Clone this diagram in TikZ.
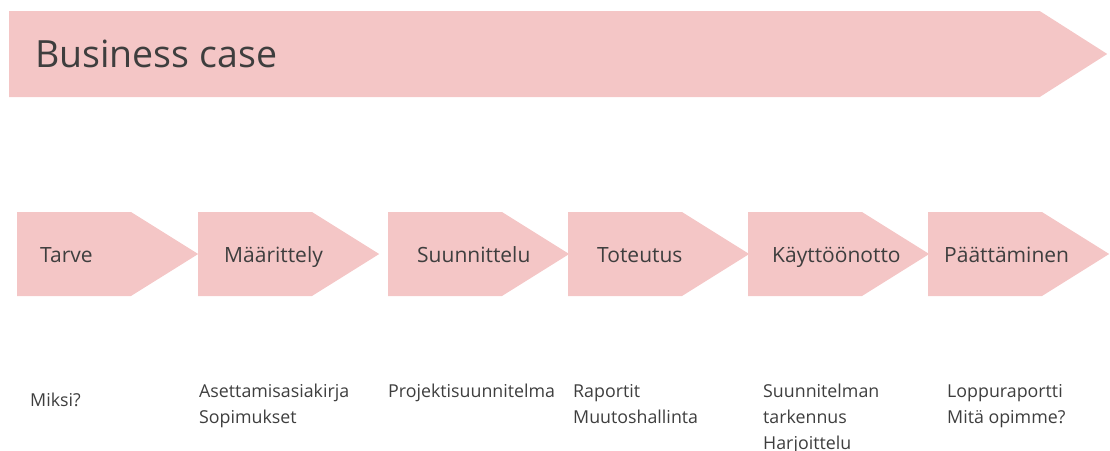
\documentclass[tikz,border=0pt]{standalone}
\usepackage{fontspec}
\setmainfont{Open Sans}
\usetikzlibrary{shapes.symbols,positioning}
\definecolor{casepink}{RGB}{244,198,198}
\definecolor{phasetext}{RGB}{62,62,62}
\tikzset{
    bigcase/.style={signal,signal to=east,signal pointer angle=65,fill=casepink,minimum width=1098pt,minimum height=86pt,inner sep=0pt,anchor=west},
    phase/.style={signal,signal to=east,signal pointer angle=64,fill=casepink,minimum width=181pt,minimum height=84pt,inner sep=0pt,anchor=west},
    phaselabel/.style={font=\fontsize{21}{24}\selectfont,text=phasetext,inner sep=0pt,text height=18pt,text depth=2pt,anchor=west},
    doc/.style={font=\fontsize{17.8}{26}\selectfont,text=phasetext,align=left,inner sep=0pt,anchor=north west}
}

\begin{document}
\begin{tikzpicture}[x=1pt,y=-1pt]
    \useasboundingbox (0,0) rectangle (1110,450);

    \node[bigcase] (case) at (9,54) {};
    \node[font=\fontsize{37.5}{40}\selectfont,text=phasetext,inner sep=0pt,anchor=west] (case label) [right=26pt of case.west] {Business case};

    \node[phase] (tarve)    at (17,254)  {};
    \node[phase] (maar)     at (198,254) {};
    \node[phase] (suun)     at (388,254) {};
    \node[phase] (tote)     at (568,254) {};
    \node[phase] (kaytto)   at (748,254) {};
    \node[phase] (paatto)   at (928,254) {};

    \node[phaselabel] (tarve label)  [right=23pt of tarve.west]  {Tarve};
    \node[phaselabel] (maar label)   [right=26pt of maar.west]   {Määrittely};
    \node[phaselabel] (suun label)   [right=29pt of suun.west]   {Suunnittelu};
    \node[phaselabel] (tote label)   [right=29pt of tote.west]   {Toteutus};
    \node[phaselabel] (kaytto label) [right=24pt of kaytto.west] {Käyttöönotto};
    \node[phaselabel] (paatto label) [right=16pt of paatto.west] {Päättäminen};

    \node[doc] (tarve doc)  at (30,393)  {Miksi?};
    \node[doc] (maar doc)   at (199,384) {Asettamisasiakirja\\Sopimukset};
    \node[doc] (suun doc)   at (388,384) {Projektisuunnitelma};
    \node[doc] (tote doc)   at (573,384) {Raportit\\Muutoshallinta};
    \node[doc] (kaytto doc) at (763,384) {Suunnitelman\\tarkennus\\Harjoittelu};
    \node[doc] (paatto doc) at (947,384) {Loppuraportti\\Mitä opimme?};

\end{tikzpicture}
\end{document}
